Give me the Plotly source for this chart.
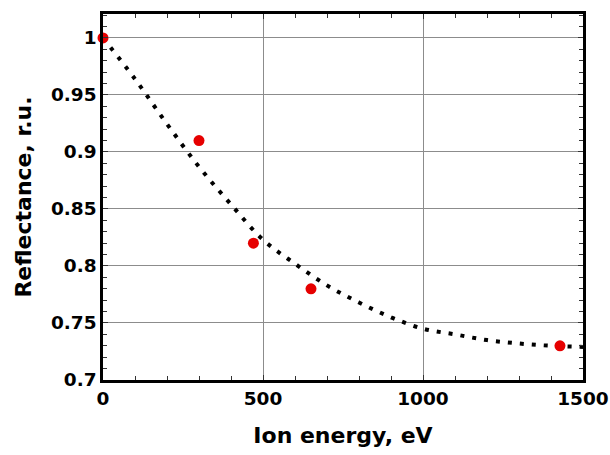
import plotly.graph_objects as go

# Measured data points
energy = [0, 300, 470, 650, 1428]
reflectance = [1.0, 0.91, 0.82, 0.78, 0.73]

# Dotted trend curve
fit_energy = [0, 100, 200, 300, 400, 500, 600, 700, 800, 900, 1000, 1100, 1200, 1300, 1400, 1500]
fit_reflectance = [1.0, 0.964, 0.9245, 0.887, 0.854, 0.823, 0.802, 0.783, 0.768, 0.755,
                   0.745, 0.740, 0.735, 0.732, 0.730, 0.729]

x_ticks = [0, 500, 1000, 1500]
y_ticks = [0.7, 0.75, 0.8, 0.85, 0.9, 0.95, 1.0]
y_tick_labels = ["0.7", "0.75", "0.8", "0.85", "0.9", "0.95", "1"]

font_family = "DejaVu Sans"

fig = go.Figure()
fig.add_trace(go.Scatter(
    x=fit_energy, y=fit_reflectance, mode="lines",
    line=dict(color="black", width=4, dash="4px,8px", shape="spline"),
    showlegend=False, hoverinfo="skip",
))
fig.add_trace(go.Scatter(
    x=energy, y=reflectance, mode="markers",
    marker=dict(color="#e60000", size=11, line=dict(width=0)),
    cliponaxis=False, showlegend=False,
))

axis_common = dict(
    showline=True, linecolor="black", linewidth=2.5, mirror="allticks",
    ticks="inside", ticklen=5, tickwidth=1, tickcolor="#333",
    showgrid=True, gridcolor="#8c8c8c", gridwidth=1,
    zeroline=False, automargin=False,
    tickfont=dict(family=font_family, size=18.5, color="black", weight="bold"),
)

fig.update_xaxes(
    range=[0, 1500], tickvals=x_ticks,
    minor=dict(dtick=100, ticks="inside", ticklen=4, tickcolor="#333", showgrid=False),
    title=dict(text="Ion energy, eV", font=dict(family=font_family, size=22, color="black", weight="bold"), standoff=20),
    **axis_common,
)
fig.update_yaxes(
    range=[0.7, 1.021], tickvals=y_ticks, ticktext=y_tick_labels,
    minor=dict(dtick=0.01, tick0=0.7, ticks="inside", ticklen=4, tickcolor="#333", showgrid=False),
    title=dict(text="Reflectance, r.u.", font=dict(family=font_family, size=22, color="black", weight="bold"), standoff=14),
    **axis_common,
)

fig.update_layout(
    width=610, height=455,
    margin=dict(l=103, r=27, t=14, b=75),
    plot_bgcolor="white", paper_bgcolor="white",
)

fig.write_html("out.html")
